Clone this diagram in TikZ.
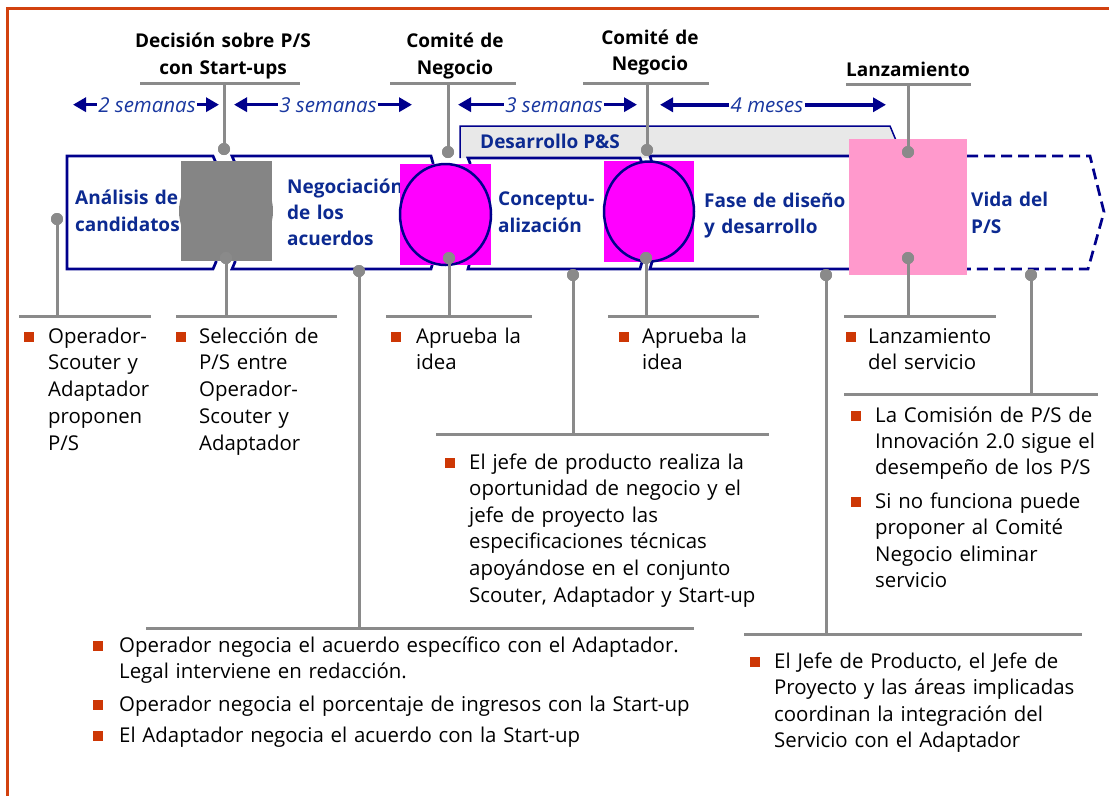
\documentclass[tikz,border=0pt]{standalone}
\usepackage{fontspec}
\setmainfont{Open Sans}
\usetikzlibrary{arrows.meta,calc}

\definecolor{navy}{RGB}{0,0,140}
\definecolor{boxtext}{RGB}{12,42,145}
\definecolor{spantext}{RGB}{25,55,160}
\definecolor{guidegray}{RGB}{138,138,138}
\definecolor{bulletred}{RGB}{205,55,5}
\definecolor{framered}{RGB}{210,65,15}
\definecolor{tabgray}{RGB}{232,232,232}
\definecolor{markgray}{RGB}{133,133,133}
\definecolor{markmag}{RGB}{255,0,255}
\definecolor{markpink}{RGB}{255,153,204}

\tikzset{
  stage/.style={draw=navy, line width=2.7pt, fill=white, line join=miter},
  stagetext/.style={font=\bfseries\fontsize{19}{27}\selectfont, text=boxtext,
    anchor=base west, inner sep=0pt, align=left, text width=170pt},
  tabtext/.style={font=\bfseries\fontsize{19}{22}\selectfont, text=boxtext,
    anchor=base west, inner sep=0pt},
  title/.style={font=\bfseries\fontsize{19}{27}\selectfont, anchor=base,
    inner sep=0pt, align=center, text width=220pt},
  guide/.style={draw=guidegray, line width=3pt},
  dot/.style={circle, fill=guidegray, inner sep=0pt, minimum size=12pt},
  span/.style={font=\itshape\fontsize{20.5}{22}\selectfont, text=spantext,
    inner sep=1.5pt, anchor=base},
  spanarrow/.style={draw=navy, line width=3.5pt, -{Triangle[length=13pt,width=14pt]}},
  note/.style={font=\fontsize{20.4}{26.8}\selectfont, anchor=base west,
    inner sep=0pt, align=left, text width=600pt},
  bullet/.style={fill=bulletred, minimum size=10pt, inner sep=0pt},
}

\begin{document}
\begin{tikzpicture}[x=1pt,y=-1pt]
\useasboundingbox (0,0) rectangle (1109,796);
\fill[white] (0,0) rectangle (1109,796);

% outer frame
\draw[framered, line width=3pt] (1109,8.5) -- (7.5,8.5) -- (7.5,796);

% "Desarrollo P&S" tab
\draw[fill=tabgray, draw=navy, line width=1.5pt]
  (460,158) -- (460,126) -- (890,126) -- (900,150) -- (900,158);
\node[tabtext] (tab) at (480,148) {Desarrollo P\&S};

% process stages
\draw[stage] (67,156) -- (213,156) -- (216,163) -- (216,262) -- (213,269) -- (67,269) -- cycle;
\draw[stage] (232,156) -- (431,156) -- (433,163) -- (433,262) -- (431,269) -- (232,269) -- (235,262) -- (235,163) -- cycle;
\draw[stage] (468,158) -- (640,158) -- (642,163) -- (642,262) -- (640,269) -- (468,269) -- (470,262) -- (470,163) -- cycle;
\draw[stage] (650,156) -- (930,156) -- (930,269) -- (650,269) -- (652,262) -- (652,163) -- cycle;
\draw[draw=navy, line width=2.7pt, dash pattern=on 11pt off 6pt]
  (967,156) -- (1090,156) -- (1104,212) -- (1088,269) -- (967,269);

\node[stagetext] (s1) at (75,204) {Análisis de\\candidatos};
\node[stagetext, font=\bfseries\fontsize{19}{26}\selectfont] (s2) at (287,193) {Negociación\\de los\\acuerdos};
\node[stagetext] (s3) at (498,205) {Conceptu-\\alización};
\node[stagetext, font=\bfseries\fontsize{19}{26}\selectfont] (s4) at (704,207) {Fase de diseño\\y desarrollo};
\node[stagetext, font=\bfseries\fontsize{19}{27}\selectfont] (s5) at (971,206) {Vida del\\P/S};

% milestone markers
\node[circle, fill=markgray, minimum size=94pt, inner sep=0pt] (m1c) at (226,211) {};
\node[fill=markgray, minimum width=91pt, minimum height=100pt, inner sep=0pt] (m1) at (226.5,211) {};
\node[fill=markmag, minimum width=91pt, minimum height=101pt, inner sep=0pt] (m2) at (445.5,214.5) {};
\draw[fill=markmag, draw=navy, line width=2.5pt] (m2.center) ellipse [x radius=45.5, y radius=50.5];
\node[fill=markmag, minimum width=90pt, minimum height=101pt, inner sep=0pt] (m3) at (649,211.5) {};
\draw[fill=markmag, draw=navy, line width=2.5pt] (m3.center) ellipse [x radius=45, y radius=50];
\node[fill=markpink, minimum width=118pt, minimum height=136pt, inner sep=0pt] (m4) at (908,207) {};

% milestone titles
\node[title] (t1) at (223,47) {Decisión sobre P/S\\con Start-ups};
\node[title] (t2) at (455,47) {Comité de\\Negocio};
\node[title, font=\bfseries\fontsize{19}{26}\selectfont] (t3) at (650,44) {Comité de\\Negocio};
\node[title] (t4) at (908,76) {Lanzamiento};

\coordinate (u1l) at (140,83);  \coordinate (u1r) at (300,83);
\coordinate (u2l) at (390,83);  \coordinate (u2r) at (516,83);
\coordinate (u3l) at (583,83);  \coordinate (u3r) at (709,83);
\coordinate (u4l) at (846,84);  \coordinate (u4r) at (971,84);
\draw[guide] (u1l) -- (u1r);
\draw[guide] (u2l) -- (u2r);
\draw[guide] (u3l) -- (u3r);
\draw[guide] (u4l) -- (u4r);

% top dots
\node[dot] (td1) at (224,149) {};
\node[dot] (td2) at (448,152) {};
\node[dot] (td3) at (647,150) {};
\node[dot] (td4) at (908,152) {};
\draw[guide] (td1.center) -- (td1 |- u1l);
\draw[guide] (td2.center) -- (td2 |- u2l);
\draw[guide] (td3.center) -- (td3 |- u3l);
\draw[guide] (td4.center) -- (td4 |- u4l);

% durations
\node[span] (p1) at (147,112) {2 semanas};
\node[span] (p2) at (328,112) {3 semanas};
\node[span] (p3) at (554,112) {3 semanas};
\node[span] (p4) at (767,112) {4 meses};
\coordinate (p1a) at (73,105);  \coordinate (p1b) at (219,105);
\coordinate (p2a) at (234,105); \coordinate (p2b) at (412,105);
\coordinate (p3a) at (458,105); \coordinate (p3b) at (637,105);
\coordinate (p4a) at (660,105); \coordinate (p4b) at (886,105);
\foreach \k in {1,2,3,4}{
  \draw[spanarrow] (p\k.west) -- (p\k.west -| p\k a);
  \draw[spanarrow] (p\k.east) -- (p\k.east -| p\k b);
}

% bottom dots and their guide lines
\node[dot] (bd1) at (57,219) {};
\node[dot] (bd2) at (226,258) {};
\node[dot] (bd3) at (359,271) {};
\node[dot] (bd4) at (449,258) {};
\node[dot] (bd5) at (573,275) {};
\node[dot] (bd6) at (646,258) {};
\node[dot] (bd7) at (826,275) {};
\node[dot] (bd8) at (908,258) {};
\node[dot] (bd9) at (1031,275) {};

\coordinate (l1l) at (19,316);  \coordinate (l1r) at (151,316);
\coordinate (l2l) at (176,316); \coordinate (l2r) at (337,316);
\coordinate (l3l) at (146,628); \coordinate (l3r) at (694,628);
\coordinate (l4l) at (386,316); \coordinate (l4r) at (532,316);
\coordinate (l5l) at (436,434); \coordinate (l5r) at (769,434);
\coordinate (l6l) at (608,316); \coordinate (l6r) at (759,316);
\coordinate (l7l) at (744,634); \coordinate (l7r) at (1082,634);
\coordinate (l8l) at (844,316); \coordinate (l8r) at (996,316);
\coordinate (l9l) at (844,394); \coordinate (l9r) at (1098,394);
\foreach \k in {1,...,9}{
  \draw[guide] (l\k l) -- (l\k r);
  \draw[guide] (bd\k.center) -- (bd\k |- l\k l);
}
\foreach \k in {1,...,9}{ \node[dot] at (bd\k) {}; }
\foreach \k in {1,2,3,4}{ \node[dot] at (td\k) {}; }

% notes
\node[bullet] (n1b) at (29,337) {};
\node[note] (n1) at (48,343) {Operador-\\Scouter y\\Adaptador\\proponen\\P/S};
\node[bullet] (n2b) at (181,337) {};
\node[note] (n2) at (199,343) {Selección de\\P/S entre\\Operador-\\Scouter y\\Adaptador};
\node[bullet] (n3b) at (396,337) {};
\node[note] (n3) at (416,343) {Aprueba la\\idea};
\node[bullet] (n4b) at (624,337) {};
\node[note] (n4) at (642,343) {Aprueba la\\idea};
\node[bullet] (n5b) at (851,337) {};
\node[note] (n5) at (868,343) {Lanzamiento\\del servicio};
\node[bullet] (n6b) at (450,463) {};
\node[note, font=\fontsize{20.4}{26.6}\selectfont] (n6) at (469,469) {El jefe de producto realiza la\\oportunidad de negocio y el\\jefe de proyecto las\\especificaciones técnicas\\apoyándose en el conjunto\\Scouter, Adaptador y Start-up};
\node[bullet] (n7b) at (98,646) {};
\node[note] (n7) at (119,652) {Operador negocia el acuerdo específico con el Adaptador.\\Legal interviene en redacción.};
\node[bullet] (n8b) at (98,705) {};
\node[note] (n8) at (119,711) {Operador negocia el porcentaje de ingresos con la Start-up};
\node[bullet] (n9b) at (98,736) {};
\node[note] (n9) at (119,742) {El Adaptador negocia el acuerdo con la Start-up};
\node[bullet] (n10b) at (856,416) {};
\node[note, font=\fontsize{20.4}{26}\selectfont] (n10) at (875,422) {La Comisión de P/S de\\Innovación 2.0 sigue el\\desempeño de los P/S};
\node[bullet] (n11b) at (856,502) {};
\node[note, font=\fontsize{20.4}{26.6}\selectfont] (n11) at (875,508) {Si no funciona puede\\proponer al Comité\\Negocio eliminar\\servicio};
\node[bullet] (n12b) at (755,662) {};
\node[note, font=\fontsize{20.4}{26.6}\selectfont] (n12) at (774,668) {El Jefe de Producto, el Jefe de\\Proyecto y las áreas implicadas\\coordinan la integración del\\Servicio con el Adaptador};
\end{tikzpicture}
\end{document}
